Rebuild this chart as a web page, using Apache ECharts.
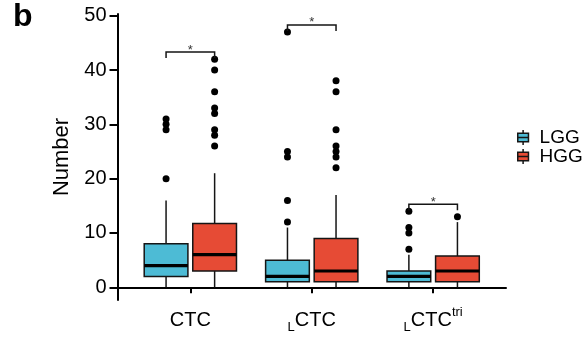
<!DOCTYPE html>
<html>
<head>
<meta charset="utf-8">
<script src="https://cdn.jsdelivr.net/npm/echarts@6/dist/echarts.min.js"></script>
<style>
  html, body { margin: 0; padding: 0; background: #fff; }
  #chart { width: 585px; height: 345px; }
</style>
</head>
<body>
<div id="chart"></div>
<script>
var categories = ['CTC', 'LCTC', 'LCTCtri'];
var groups = ['LGG', 'HGG'];
var colors = ['#4DBBD5', '#E64B35'];

// [min, q1, median, q3, max] per category
var lggBox = [[0, 2, 4, 8, 16], [0, 1, 2, 5, 11], [0, 1, 2, 3, 6]];
var hggBox = [[0, 3, 6, 11.75, 21], [0, 1, 3, 9, 17], [0, 1, 3, 5.75, 12]];

var lggOut = [[20, 29, 30, 31], [12, 16, 24, 25, 47], [7, 10, 11, 14]];
var hggOut = [[26, 28, 29, 32, 33, 36, 40, 42], [22, 24, 25, 26, 29, 36, 38], [13]];

var bracketTop = [43.3, 48.3, 15.3];
var yTicks = [0, 10, 20, 30, 40, 50];

var dodge = 0.2;
var boxW = 0.36;
var font = '"Liberation Sans", Arial, Helvetica, sans-serif';

function boxRows(stats, off) {
    return stats.map(function (s, i) {
        return [i + 1 + off].concat(s);
    });
}

function outRows(list, off) {
    var rows = [];
    list.forEach(function (vals, i) {
        vals.forEach(function (v) {
            rows.push([i + 1 + off, v]);
        });
    });
    return rows;
}

function renderBox(params, api) {
    var x = api.value(0);
    var w = api.size([boxW, 0])[0];
    var pMin = api.coord([x, api.value(1)]);
    var pQ1 = api.coord([x, api.value(2)]);
    var pMed = api.coord([x, api.value(3)]);
    var pQ3 = api.coord([x, api.value(4)]);
    var pMax = api.coord([x, api.value(5)]);
    var stroke = {stroke: '#151515', lineWidth: 1.5};
    return {
        type: 'group',
        children: [
            {type: 'line', shape: {x1: pMax[0], y1: pMax[1], x2: pQ3[0], y2: pQ3[1]}, style: stroke},
            {type: 'line', shape: {x1: pMin[0], y1: pMin[1], x2: pQ1[0], y2: pQ1[1]}, style: stroke},
            {
                type: 'rect',
                shape: {x: pQ3[0] - w / 2, y: pQ3[1], width: w, height: pQ1[1] - pQ3[1]},
                style: {fill: api.visual('color'), stroke: '#151515', lineWidth: 1.5}
            },
            {
                type: 'line',
                shape: {x1: pMed[0] - w / 2, y1: pMed[1], x2: pMed[0] + w / 2, y2: pMed[1]},
                style: {stroke: '#000', lineWidth: 3.2}
            }
        ]
    };
}

function renderBracket(params, api) {
    var x1 = api.value(0), x2 = api.value(1), top = api.value(2), leg = api.value(3);
    var a = api.coord([x1, leg]);
    var b = api.coord([x1, top]);
    var c = api.coord([x2, top]);
    var d = api.coord([x2, leg]);
    return {
        type: 'group',
        children: [
            {
                type: 'polyline',
                shape: {points: [a, b, c, d]},
                style: {stroke: '#151515', lineWidth: 1.5, fill: null}
            },
            {
                type: 'text',
                style: {
                    text: '*', x: (b[0] + c[0]) / 2, y: b[1] - 2,
                    align: 'center', verticalAlign: 'middle',
                    font: '13px ' + font, fill: '#333'
                }
            }
        ]
    };
}

var bracketData = bracketTop.map(function (t, i) {
    return [i + 1 - dodge, i + 1 + dodge, t, t - 1.1];
});

var legendIcon = 'path://M0,3 L10,3 L10,11 L0,11 Z M0,7 L10,7 M5,0 L5,3 M5,11 L5,14';

var labelRich = {
    m: {fontSize: 20, fontFamily: font, color: '#000', lineHeight: 28},
    sub: {fontSize: 13, fontFamily: font, color: '#000', lineHeight: 14, verticalAlign: 'bottom'},
    sup: {fontSize: 13, fontFamily: font, color: '#000', lineHeight: 22, verticalAlign: 'top'}
};

var chart = echarts.init(document.getElementById('chart'));

var option = {
    animation: false,
    backgroundColor: '#fff',
    grid: {left: 117.5, right: 79, top: 14, bottom: 45},
    graphic: [{
        type: 'text',
        left: 13,
        top: 1,
        style: {text: 'b', font: 'bold 32px ' + font, fill: '#000'}
    }],
    legend: {
        orient: 'vertical',
        left: 512,
        top: 123,
        itemWidth: 11,
        itemHeight: 15,
        itemGap: 0,
        textStyle: {fontSize: 19, lineHeight: 18, fontFamily: font, color: '#000', padding: [0, 0, 0, 6]},
        data: groups.map(function (g, i) {
            return {
                name: g,
                icon: legendIcon,
                itemStyle: {color: colors[i], borderColor: '#151515', borderWidth: 1.5}
            };
        })
    },
    xAxis: {
        type: 'value',
        min: 0.4,
        max: 3.6,
        axisLine: {lineStyle: {color: '#000', width: 2}},
        axisTick: {customValues: [1, 2, 3], length: 6, lineStyle: {color: '#000', width: 2}},
        splitLine: {show: false},
        axisLabel: {
            customValues: [1, 2, 3],
            margin: 6,
            formatter: function (v) {
                var name = categories[Math.round(v) - 1];
                if (name === 'CTC') return '{m|CTC}';
                if (name === 'LCTC') return '{sub|L}{m|CTC}';
                return '{sub|L}{m|CTC}{sup|tri}';
            },
            rich: labelRich
        }
    },
    yAxis: {
        type: 'value',
        min: -2.34,
        max: 50.31,
        name: 'Number',
        nameLocation: 'middle',
        nameGap: 45,
        nameTextStyle: {fontSize: 22, fontFamily: font, color: '#000'},
        axisLine: {show: true, lineStyle: {color: '#000', width: 2}},
        axisTick: {show: true, customValues: yTicks, length: 8, lineStyle: {color: '#000', width: 2}},
        splitLine: {show: false},
        axisLabel: {
            customValues: yTicks,
            margin: 11,
            fontSize: 20,
            fontFamily: font,
            color: '#000'
        }
    },
    series: [
        {
            name: 'LGG', type: 'custom', renderItem: renderBox,
            itemStyle: {color: colors[0]},
            encode: {x: 0, y: [1, 2, 3, 4, 5]},
            data: boxRows(lggBox, -dodge), z: 2
        },
        {
            name: 'HGG', type: 'custom', renderItem: renderBox,
            itemStyle: {color: colors[1]},
            encode: {x: 0, y: [1, 2, 3, 4, 5]},
            data: boxRows(hggBox, dodge), z: 2
        },
        {
            name: 'LGG outliers', type: 'scatter', symbolSize: 7,
            itemStyle: {color: '#000', opacity: 1}, data: outRows(lggOut, -dodge), z: 3
        },
        {
            name: 'HGG outliers', type: 'scatter', symbolSize: 7,
            itemStyle: {color: '#000', opacity: 1}, data: outRows(hggOut, dodge), z: 3
        },
        {
            name: 'signif', type: 'custom', renderItem: renderBracket,
            encode: {x: [0, 1], y: [2, 3]},
            data: bracketData, z: 4
        }
    ]
};

chart.setOption(option);
</script>
</body>
</html>
